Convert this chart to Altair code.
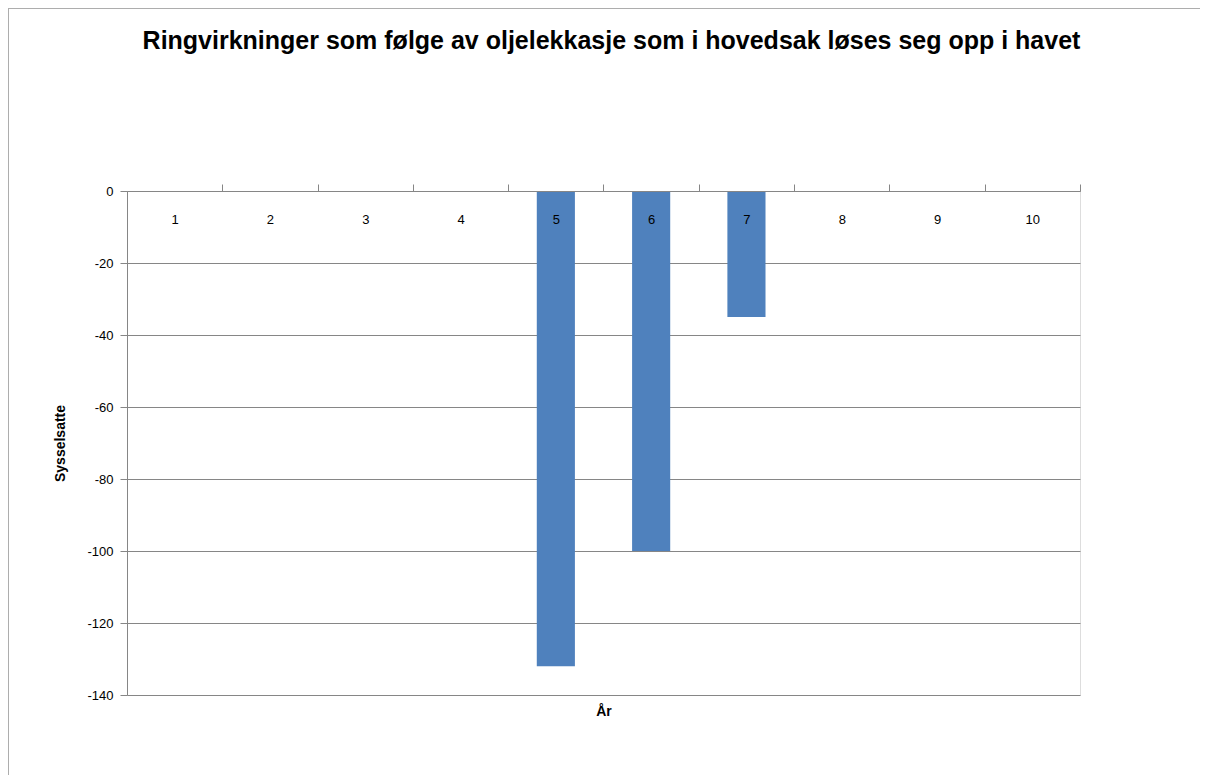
import altair as alt
import pandas as pd

years = [str(i) for i in range(1, 11)]
values = [0, 0, 0, 0, -132, -100, -35, 0, 0, 0]
y_ticks = [0, -20, -40, -60, -80, -100, -120, -140]

title_text = "Ringvirkninger som følge av oljelekkasje som i hovedsak løses seg opp i havet"
FONT = "Liberation Sans Narrow, Liberation Sans, Arial, sans-serif"
GREY = "#868686"

df = pd.DataFrame({"year": years, "value": values})

W, H = 953, 504
STEP = W / len(years)

one = alt.Chart(pd.DataFrame({"a": [0]}))
frame_top = one.mark_rule(color="#ADADAD", strokeWidth=2).encode(
    x=alt.value(-119), x2=alt.value(1200), y=alt.value(-183)
)
frame_left = one.mark_rule(color="#ADADAD", strokeWidth=2).encode(
    x=alt.value(-119), y=alt.value(-183), y2=alt.value(900)
)

bars = alt.Chart(df).mark_bar(color="#4F81BD").encode(
    x=alt.X(
        "year:N",
        sort=years,
        scale=alt.Scale(paddingInner=0.6, paddingOuter=0.3),
        axis=alt.Axis(
            orient="top",
            zindex=1,
            title="År",
            titleY=520,
            titleBaseline="middle",
            titleFont=FONT,
            titleFontSize=14,
            titleFontWeight="bold",
            labelAngle=0,
            labelBaseline="middle",
            labelPadding=-35,
            labelFont=FONT,
            labelFontSize=13,
            labelColor="#000000",
            tickOffset=STEP / 2,
            labelOffset=-STEP / 2,
            tickSize=7,
            tickColor=GREY,
            domainColor=GREY,
            grid=False,
        ),
    ),
    y=alt.Y(
        "value:Q",
        scale=alt.Scale(domain=[-140, 0], nice=False),
        axis=alt.Axis(
            values=y_ticks,
            labelExpr="toString(datum.value)",
            title="Sysselsatte",
            titleX=-67,
            titleY=H / 2,
            titleAngle=-90,
            titleAlign="center",
            titleBaseline="middle",
            titleFont=FONT,
            titleFontSize=14,
            titleFontWeight="bold",
            labelFont=FONT,
            labelFontSize=13,
            labelColor="#000000",
            labelPadding=7,
            tickSize=7,
            tickColor=GREY,
            domainColor=GREY,
            gridColor=GREY,
            grid=True,
        ),
    ),
)

chart = alt.layer(frame_top, frame_left, bars).properties(
    width=W,
    height=H,
    title=alt.TitleParams(
        title_text,
        font=FONT,
        fontSize=25,
        fontWeight="bold",
        anchor="middle",
        baseline="middle",
        offset=0,
        dy=59,
        dx=8,
        color="#000000",
    ),
    autosize=alt.AutoSizeParams(type="none"),
    padding={"left": 119, "top": 183, "right": 120, "bottom": 80},
).configure_view(stroke=None).configure(background="white")

chart.save("out.html", embed_options={"renderer": "svg", "actions": False})
